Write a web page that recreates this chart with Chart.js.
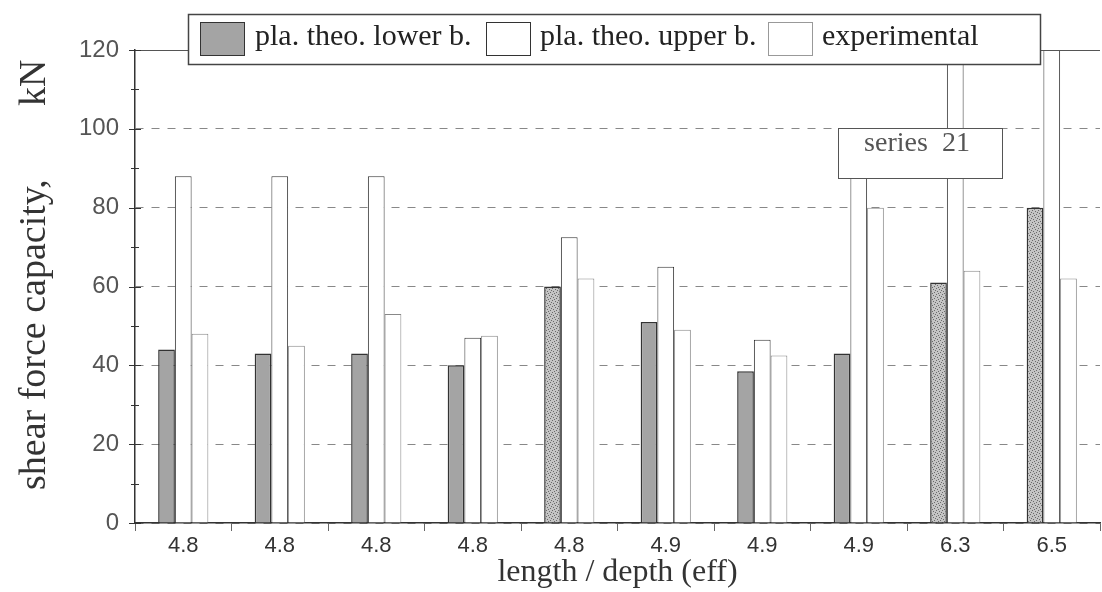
<!DOCTYPE html>
<html>
<head>
<meta charset="utf-8">
<script src="https://cdn.jsdelivr.net/npm/chart.js@4.4.1/dist/chart.umd.min.js"></script>
<style>
  html, body { margin: 0; padding: 0; background: #fff; }
  #wrap { width: 1102px; height: 592px; position: relative; }
</style>
</head>
<body>
<div id="wrap"><canvas id="shearChart"></canvas></div>
<script>
// data
const categories = ['4.8', '4.8', '4.8', '4.8', '4.8', '4.9', '4.9', '4.9', '6.3', '6.5'];
const lowerBound = [44, 43, 43, 40, 60, 51, 38.5, 43, 61, 80];
const upperBound = [88, 88, 88, 47, 72.5, 65, 46.5, 88, 125, 125];
const experimental = [48, 45, 53, 47.5, 62, 49, 42.5, 80, 64, 62];
const seriesNames = ['pla. theo. lower b.', 'pla. theo. upper b.', 'experimental'];
const yTicks = [0, 20, 40, 60, 80, 100, 120];

// speckled grey like the scanned hatching
function speckle() {
  const c = document.createElement('canvas');
  c.width = 6; c.height = 6;
  const g = c.getContext('2d');
  g.fillStyle = '#c4c4c4';
  g.fillRect(0, 0, 6, 6);
  g.fillStyle = '#6a6a6a';
  [[0, 0], [3, 1], [1, 3], [4, 4], [5, 2], [2, 5]].forEach(p => g.fillRect(p[0], p[1], 1, 1));
  return g.createPattern(c, 'repeat');
}
const dots = speckle();
const lowerFill = lowerBound.map((v, i) => (i === 4 || i === 8 || i === 9) ? dots : '#a4a4a4');

const serif = "'Liberation Serif', 'DejaVu Serif', serif";
const sans = "'Liberation Sans', Arial, sans-serif";

// legend box, note box, y title and minor ticks on the y axis
const extras = {
  id: 'extras',
  afterDatasetsDraw(chart) {
    const ctx = chart.ctx;
    const ya = chart.scales.y;
    const area = chart.chartArea;
    ctx.save();
    // top frame line
    ctx.strokeStyle = '#555';
    ctx.lineWidth = 1;
    ctx.beginPath();
    ctx.moveTo(area.left, area.top + 0.5);
    ctx.lineTo(area.right, area.top + 0.5);
    ctx.stroke();
    // y axis ticks every 10
    ctx.strokeStyle = '#333';
    for (let v = 0; v <= 120; v += 10) {
      const y = Math.round(ya.getPixelForValue(v)) + 0.5;
      const w = v % 20 === 0 ? 6 : 4;
      ctx.beginPath();
      ctx.moveTo(area.left - w, y);
      ctx.lineTo(area.left + w, y);
      ctx.stroke();
    }
    // y title, drawn by hand so the unit sits apart
    ctx.save();
    ctx.translate(45, 490);
    ctx.rotate(-Math.PI / 2);
    ctx.fillStyle = '#333';
    ctx.font = '38px ' + serif;
    ctx.textBaseline = 'alphabetic';
    ctx.textAlign = 'left';
    ctx.fillText('shear force capacity,', 0, 0);
    ctx.fillText('kN', 384, 0);
    ctx.restore();
    // legend
    ctx.fillStyle = '#fff';
    ctx.fillRect(188, 14, 852, 50);
    ctx.strokeStyle = '#444';
    ctx.lineWidth = 1.5;
    ctx.strokeRect(188.5, 14.5, 852, 50);
    const sw = [200, 486, 768];
    const tx = [255, 540, 822];
    chart.data.datasets.forEach((ds, i) => {
      ctx.fillStyle = i === 0 ? '#a4a4a4' : '#fff';
      ctx.fillRect(sw[i], 22, 44, 33);
      ctx.strokeStyle = i === 2 ? '#999' : '#333';
      ctx.lineWidth = 1;
      ctx.strokeRect(sw[i] + 0.5, 22.5, 44, 33);
      ctx.fillStyle = '#222';
      ctx.font = '30px ' + serif;
      ctx.textBaseline = 'middle';
      ctx.textAlign = 'left';
      ctx.fillText(ds.label, tx[i], 37);
    });
    // note box
    ctx.fillStyle = '#fff';
    ctx.fillRect(838, 128, 164, 50);
    ctx.strokeStyle = '#555';
    ctx.lineWidth = 1;
    ctx.strokeRect(838.5, 128.5, 164, 50);
    ctx.fillStyle = '#555';
    ctx.font = '28px ' + serif;
    ctx.textAlign = 'center';
    ctx.textBaseline = 'middle';
    ctx.fillText('series  21', 917, 144);
    ctx.restore();
  }
};

const ctx = document.getElementById('shearChart').getContext('2d');
const myChart = new Chart(ctx, {
  type: 'bar',
  data: {
    labels: categories,
    datasets: [{
      label: seriesNames[0],
      data: lowerBound,
      backgroundColor: lowerFill,
      borderColor: '#333',
      borderWidth: 1.5
    }, {
      label: seriesNames[1],
      data: upperBound,
      backgroundColor: '#fff',
      borderColor: '#333',
      borderWidth: 1
    }, {
      label: seriesNames[2],
      data: experimental,
      backgroundColor: '#fff',
      borderColor: '#888',
      borderWidth: 1
    }]
  },
  plugins: [extras],
  options: {
    responsive: true,
    maintainAspectRatio: false,
    animation: false,
    layout: { padding: { top: 50, right: 2, left: 0, bottom: 0 } },
    datasets: { bar: { categoryPercentage: 0.52, barPercentage: 1.0 } },
    plugins: {
      legend: { display: false },
      tooltip: { enabled: false }
    },
    scales: {
      x: {
        afterFit(s) { s.height = 69; },
        grid: { offset: true, drawOnChartArea: false, drawTicks: true, tickLength: 8, color: '#666' },
        border: { display: true, color: '#333', width: 1.5 },
        ticks: { color: '#333', font: { family: sans, size: 22 }, padding: 2 },
        title: {
          display: true,
          text: 'length / depth (eff)',
          color: '#333',
          font: { family: serif, size: 32 },
          padding: { top: 0, bottom: 0 }
        }
      },
      y: {
        min: 0,
        max: 120,
        afterFit(s) { s.width = 135; },
        afterBuildTicks(s) { s.ticks = yTicks.map(v => ({ value: v })); },
        grid: { color: '#888', drawTicks: false },
        border: { display: true, color: '#333', width: 1.5, dash: [8, 8] },
        ticks: { color: '#555', font: { family: sans, size: 24 }, padding: 16 },
        title: { display: false }
      }
    }
  }
});
</script>
</body>
</html>
